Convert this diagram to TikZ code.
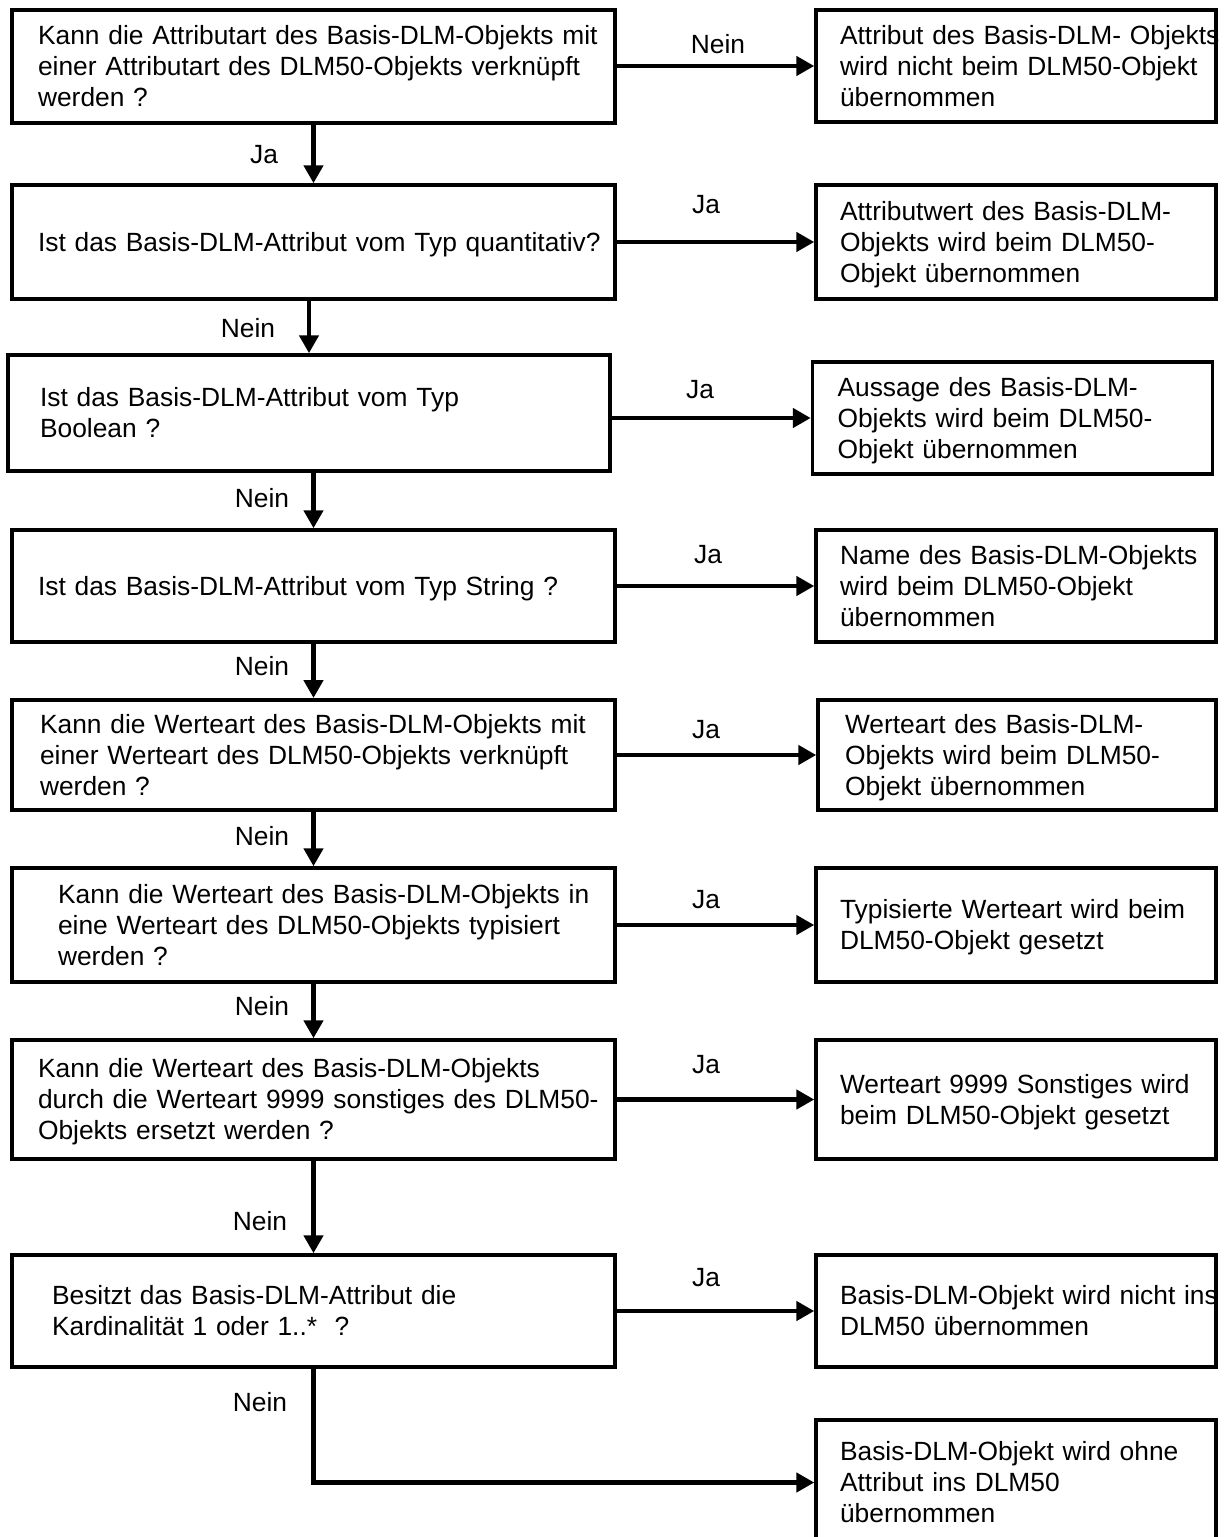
\documentclass[tikz,border=0pt]{standalone}
\usepackage{fontspec}
\setmainfont{Liberation Sans}
\usetikzlibrary{arrows.meta}
\newcommand{\boxlines}[1]{\begin{tabular}{@{}l@{}}\rule{0pt}{15.7pt}#1\end{tabular}}

\begin{document}
\begin{tikzpicture}[
        x=0.02cm, y=-0.02cm,
        question/.style={rectangle, draw, line width=2pt, minimum width=12.06cm, text width=11.02cm, inner xsep=0.52cm, align=left, font=\fontsize{15pt}{17.6pt}\selectfont},
        result/.style={rectangle, draw, line width=2pt, minimum width=8cm, text width=7.04cm, inner xsep=0.48cm, align=left, font=\fontsize{15pt}{17.6pt}\selectfont},
        answer/.style={font=\fontsize{15pt}{17.6pt}\selectfont, inner sep=0pt},
        arrow/.style={-{Triangle[length=0.36cm, width=0.38cm]}, line width=2.8pt}
    ]
        \useasboundingbox[fill=white] (0,0) rectangle (1225,1537);

        % Questions
        \node[question, minimum height=2.26cm] (q1) at (313.5,66.5) {\boxlines{Kann die Attributart des Basis-DLM-Objekts mit\\einer Attributart des DLM50-Objekts verknüpft\\werden ?}};
        \node[question, minimum height=2.28cm] (q2) at (313.5,242) {\boxlines{Ist das Basis-DLM-Attribut vom Typ quantitativ?}};
        \node[question, minimum height=2.32cm, minimum width=12.04cm, text width=10.76cm, inner xsep=0.64cm] (q3) at (309,413) {\boxlines{Ist das Basis-DLM-Attribut vom Typ\\Boolean ?}};
        \node[question, minimum height=2.24cm] (q4) at (313.5,586) {\boxlines{Ist das Basis-DLM-Attribut vom Typ String ?}};
        \node[question, minimum height=2.2cm, text width=10.94cm, inner xsep=0.56cm] (q5) at (313.5,755) {\boxlines{Kann die Werteart des Basis-DLM-Objekts mit\\einer Werteart des DLM50-Objekts verknüpft\\werden ?}};
        \node[question, minimum height=2.28cm, text width=10.22cm, inner xsep=0.92cm] (q6) at (313.5,925) {\boxlines{Kann die Werteart des Basis-DLM-Objekts in\\eine Werteart des DLM50-Objekts typisiert\\werden ?}};
        \node[question, minimum height=2.38cm] (q7) at (313.5,1099.5) {\boxlines{Kann die Werteart des Basis-DLM-Objekts\\durch die Werteart 9999 sonstiges des DLM50-\\Objekts ersetzt werden ?}};
        \node[question, minimum height=2.24cm, text width=10.46cm, inner xsep=0.8cm] (q8) at (313.5,1311) {\boxlines{Besitzt das Basis-DLM-Attribut die\\Kardinalität 1 oder 1..*\ \ ?}};

        % Results
        \node[result, minimum height=2.24cm] (r1) at (1016,66) {\boxlines{Attribut des Basis-DLM- Objekts\\wird nicht beim DLM50-Objekt\\übernommen}};
        \node[result, minimum height=2.28cm] (r2) at (1016,242) {\boxlines{Attributwert des Basis-DLM-\\Objekts wird beim DLM50-\\Objekt übernommen}};
        \node[result, minimum height=2.24cm, minimum width=7.98cm, text width=7cm, inner xsep=0.5cm] (r3) at (1012.5,418) {\boxlines{Aussage des Basis-DLM-\\Objekts wird beim DLM50-\\Objekt übernommen}};
        \node[result, minimum height=2.24cm] (r4) at (1016,586) {\boxlines{Name des Basis-DLM-Objekts\\wird beim DLM50-Objekt\\übernommen}};
        \node[result, minimum height=2.2cm, minimum width=7.96cm, text width=6.88cm, inner xsep=0.54cm] (r5) at (1017,755) {\boxlines{Werteart des Basis-DLM-\\Objekts wird beim DLM50-\\Objekt übernommen}};
        \node[result, minimum height=2.28cm] (r6) at (1016,925) {\boxlines{Typisierte Werteart wird beim\\DLM50-Objekt gesetzt}};
        \node[result, minimum height=2.38cm] (r7) at (1016,1099.5) {\boxlines{Werteart 9999 Sonstiges wird\\beim DLM50-Objekt gesetzt}};
        \node[result, minimum height=2.24cm] (r8) at (1016,1311) {\boxlines{Basis-DLM-Objekt wird nicht ins\\DLM50 übernommen}};
        \node[result, minimum height=2.5cm] (r9) at (1016,1482.5) {\boxlines{Basis-DLM-Objekt wird ohne\\Attribut ins DLM50\\übernommen}};

        % Arrows down
        \draw[arrow] (q2.north |- q1.south) -- (q2.north);
        \draw[arrow] (q3.north |- q2.south) -- (q3.north);
        \draw[arrow] (q4.north |- q3.south) -- (q4.north);
        \draw[arrow] (q5.north |- q4.south) -- (q5.north);
        \draw[arrow] (q6.north |- q5.south) -- (q6.north);
        \draw[arrow] (q7.north |- q6.south) -- (q7.north);
        \draw[arrow] (q8.north |- q7.south) -- (q8.north);

        % Arrows right
        \draw[arrow] (q1.east |- r1.west) -- (r1.west);
        \draw[arrow] (q2.east |- r2.west) -- (r2.west);
        \draw[arrow] (q3.east |- r3.west) -- (r3.west);
        \draw[arrow] (q4.east |- r4.west) -- (r4.west);
        \draw[arrow] (q5.east |- r5.west) -- (r5.west);
        \draw[arrow] (q6.east |- r6.west) -- (r6.west);
        \draw[arrow] (q7.east |- r7.west) -- (r7.west);
        \draw[arrow] (q8.east |- r8.west) -- (r8.west);
        \draw[arrow] (q8.south) |- (r9.west);

        % Answers
        \node[answer] (nein1) at (718,44) {Nein};
        \node[answer] (ja1) at (264,155) {Ja};
        \node[answer] (ja2) at (706,205) {Ja};
        \node[answer] (nein2) at (248,328) {Nein};
        \node[answer] (ja3) at (700,390) {Ja};
        \node[answer] (nein3) at (262,498) {Nein};
        \node[answer] (ja4) at (708,555) {Ja};
        \node[answer] (nein4) at (262,666) {Nein};
        \node[answer] (ja5) at (706,730) {Ja};
        \node[answer] (nein5) at (262,836) {Nein};
        \node[answer] (ja6) at (706,900) {Ja};
        \node[answer] (nein6) at (262,1006) {Nein};
        \node[answer] (ja7) at (706,1065) {Ja};
        \node[answer] (nein7) at (260,1221) {Nein};
        \node[answer] (ja8) at (706,1278) {Ja};
        \node[answer] (nein8) at (260,1402) {Nein};

    \end{tikzpicture}
\end{document}
